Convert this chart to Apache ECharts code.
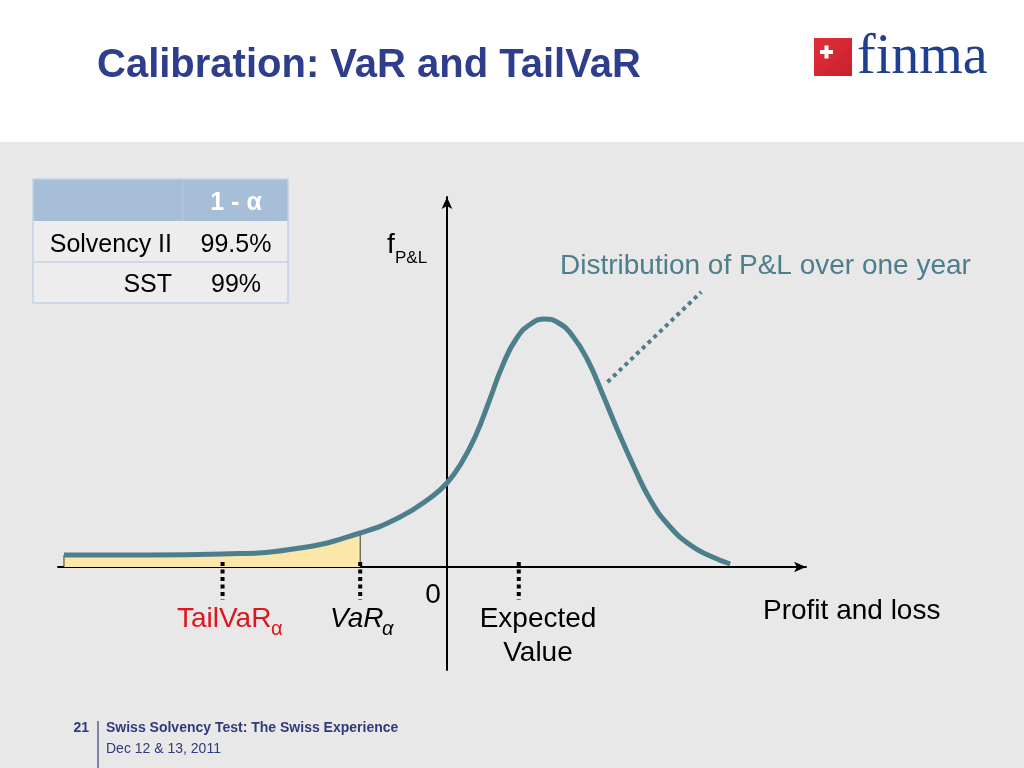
<!DOCTYPE html>
<html>
<head>
<meta charset="utf-8">
<script src="https://cdn.jsdelivr.net/npm/echarts@6/dist/echarts.min.js"></script>
<style>html,body{margin:0;padding:0;background:#fff}#c{width:1024px;height:768px}</style>
</head>
<body>
<div id="c"></div>
<script>
// P&L density curve (x: profit & loss units, y: density units)
var curveX = [-3.84,-2.98,-2.25,-1.47,-0.87,-0.47,-0.17,0.00,0.15,0.29,0.42,0.56,0.70,0.84,0.98,1.12,1.26,1.41,1.56,1.71,1.88,2.04,2.22,2.44,2.64,2.84];
var curveY = [0.12,0.12,0.13,0.19,0.34,0.50,0.69,0.84,1.05,1.32,1.65,2.02,2.29,2.43,2.48,2.44,2.31,2.07,1.73,1.37,0.99,0.67,0.42,0.22,0.11,0.03];
var varX = -0.87;
var tailVarX = -2.25;
var expectedX = 0.72;
var markerTop = 0.05, markerBottom = -0.33;
var connectorX = [1.61, 2.55];
var connectorY = [1.85, 2.75];
var tableHeader = ['', '1 - \u03b1'];
var tableRows = [['Solvency II', '99.5%'], ['SST', '99%']];

var curveData = curveX.map(function (x, i) { return [x, curveY[i]]; });
var tailData = curveData.filter(function (p) { return p[0] <= varX + 1e-9; });
var startPt = curveData[0];
var varPt = tailData[tailData.length - 1];

var teal = '#4d7e8b';
var navy = '#2e3d8c';
var F = 'Liberation Sans';

function txt(x, y, s, size, color, align, extra) {
  extra = extra || {};
  var st = { text: s, x: x, y: y, fill: color || '#000',
    fontFamily: extra.family || F, fontSize: size, fontWeight: extra.weight || 'normal', fontStyle: extra.fontStyle || 'normal',
    textAlign: align || 'left', textVerticalAlign: 'middle' };
  return { type: 'text', style: st, z: 10 };
}

var graphics = [
  { type: 'rect', shape: { x: 0, y: 142, width: 1024, height: 626 }, style: { fill: '#e8e8e8' }, z: -100 },
  txt(97, 66, 'Calibration: VaR and TailVaR', 40, navy, 'left', { weight: 'bold' }),
  // logo
  { type: 'rect', shape: { x: 814, y: 38, width: 38, height: 38 }, style: { fill: new echarts.graphic.LinearGradient(0, 0, 1, 1, [{ offset: 0, color: '#e0303a' }, { offset: 1, color: '#c8202c' }]) }, z: 10 },
  { type: 'rect', shape: { x: 820, y: 50, width: 13, height: 4 }, style: { fill: '#fff' }, z: 11 },
  { type: 'rect', shape: { x: 824.5, y: 45.5, width: 4, height: 13 }, style: { fill: '#fff' }, z: 11 },
  txt(857, 58, 'finma', 56, '#1f3f8f', 'left', { family: 'Liberation Serif' }),
  // table
  { type: 'rect', shape: { x: 33, y: 179, width: 255, height: 42 }, style: { fill: '#a7bed8' }, z: 5 },
  { type: 'rect', shape: { x: 33, y: 221, width: 255, height: 82 }, style: { fill: '#ededed' }, z: 5 },
  { type: 'line', shape: { x1: 183, y1: 179, x2: 183, y2: 221 }, style: { stroke: '#b8cbe0', lineWidth: 1 }, z: 6 },
  { type: 'line', shape: { x1: 33, y1: 262, x2: 288, y2: 262 }, style: { stroke: '#c3d2e4', lineWidth: 1.5 }, z: 6 },
  { type: 'rect', shape: { x: 33, y: 179, width: 255, height: 124 }, style: { fill: 'none', stroke: '#c3d2e4', lineWidth: 1.5 }, z: 6 },
  txt(236, 203, tableHeader[1], 25, '#fff', 'center', { weight: 'bold' }),
  txt(172, 245, tableRows[0][0], 25, '#000', 'right'),
  txt(236, 245, tableRows[0][1], 25, '#000', 'center'),
  txt(172, 285, tableRows[1][0], 25, '#000', 'right'),
  txt(236, 285, tableRows[1][1], 25, '#000', 'center'),
  // labels
  txt(387, 245, 'f', 28, '#000'),
  txt(395, 258, 'P&L', 17, '#000'),
  txt(560, 266, 'Distribution of P&L over one year', 28, teal),
  txt(433, 595, '0', 28, '#000', 'center'),
  txt(177, 619, 'TailVaR', 28, '#e0141e'),
  txt(271, 629, '\u03b1', 20, '#e0141e'),
  txt(330, 619, 'VaR', 28, '#000', 'left', { fontStyle: 'italic' }),
  txt(382, 629, '\u03b1', 20, '#000', 'left', { fontStyle: 'italic' }),
  txt(538, 619, 'Expected', 28, '#000', 'center'),
  txt(538, 653, 'Value', 28, '#000', 'center'),
  txt(763, 611, 'Profit and loss', 28, '#000'),
  // footer
  { type: 'line', shape: { x1: 98, y1: 721, x2: 98, y2: 768 }, style: { stroke: '#7d84a8', lineWidth: 2 }, z: 10 },
  txt(89, 728, '21', 14, '#2f3b7a', 'right', { weight: 'bold' }),
  txt(106, 728, 'Swiss Solvency Test: The Swiss Experience', 14, '#2f3b7a', 'left', { weight: 'bold' }),
  txt(106, 749, 'Dec 12 & 13, 2011', 14, '#2f3b7a')
];

function vline(x, y0, y1, style) {
  return { type: 'line', data: [[x, y0], [x, y1]], symbol: 'none', silent: true, lineStyle: style, z: 4 };
}

var chart = echarts.init(document.getElementById('c'));
chart.setOption({
  backgroundColor: '#ffffff',
  animation: false,
  textStyle: { fontFamily: F },
  grid: { left: 58, right: 218, top: 197, bottom: 98 },
  xAxis: { type: 'value', min: -3.9, max: 3.6, splitLine: { show: false }, axisTick: { show: false }, axisLabel: { show: false },
    axisLine: { show: true, onZero: true, symbol: ['none', 'arrow'], symbolSize: [8, 12], lineStyle: { color: '#000', width: 2 } } },
  yAxis: { type: 'value', min: -1.03, max: 3.7, splitLine: { show: false }, axisTick: { show: false }, axisLabel: { show: false },
    axisLine: { show: true, onZero: true, symbol: ['none', 'arrow'], symbolSize: [8, 12], lineStyle: { color: '#000', width: 2 } } },
  graphic: graphics,
  series: [
    { type: 'line', data: tailData, smooth: 0.5, symbol: 'none', lineStyle: { width: 0 }, areaStyle: { color: '#fbe7a9', opacity: 1, origin: 0 }, z: 1 },
    vline(startPt[0], 0, startPt[1], { color: '#3b3b2a', width: 1 }),
    vline(varPt[0], 0, varPt[1], { color: '#3b3b2a', width: 1 }),
    { type: 'line', data: curveData, smooth: 0.5, symbol: 'none', lineStyle: { color: teal, width: 5 }, z: 5 },
    vline(tailVarX, markerTop, markerBottom, { color: '#000', width: 4, type: [4, 3.5] }),
    vline(varX, markerTop, markerBottom, { color: '#000', width: 4, type: [4, 3.5] }),
    vline(expectedX, markerTop, markerBottom, { color: '#000', width: 4, type: [4, 3.5] }),
    { type: 'line', data: [[connectorX[0], connectorY[0]], [connectorX[1], connectorY[1]]], symbol: 'none', lineStyle: { color: teal, width: 4, type: [4, 4] }, z: 4 }
  ]
});
</script>
</body>
</html>
